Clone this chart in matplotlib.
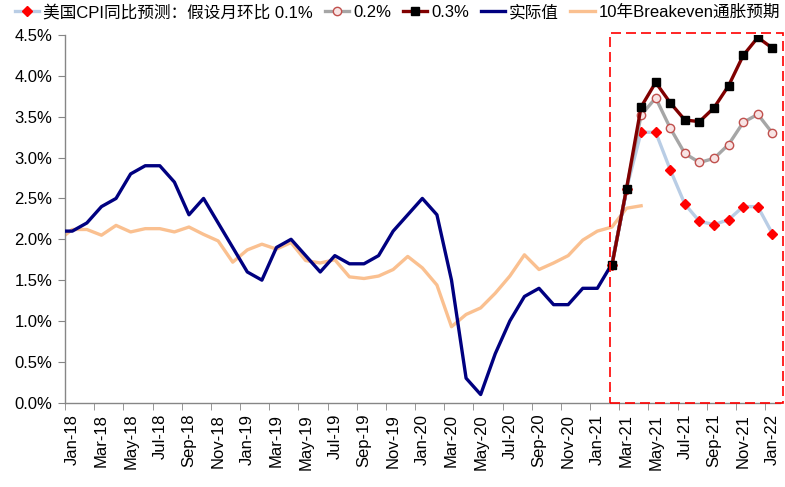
import numpy as np
import pandas as pd
import matplotlib
matplotlib.use('Agg')
import matplotlib.pyplot as plt
from matplotlib.lines import Line2D
from matplotlib.patches import Rectangle

plt.rcParams['font.family'] = ['Liberation Sans', 'Noto Sans CJK SC', 'DejaVu Sans']

# 月份：2017年12月（被裁掉）到2022年1月
months = pd.date_range('2017-12-01', '2022-01-01', freq='MS')
month_labels = [m.strftime('%b-%y') for m in months]

# 实际CPI同比（%），Dec-17 ~ Mar-21
actual = [2.1,
          2.1, 2.2, 2.4, 2.5, 2.8, 2.9, 2.9, 2.7, 2.3, 2.5, 2.2, 1.9,
          1.6, 1.5, 1.9, 2.0, 1.8, 1.6, 1.8, 1.7, 1.7, 1.8, 2.1, 2.3,
          2.5, 2.3, 1.5, 0.3, 0.1, 0.6, 1.0, 1.3, 1.4, 1.2, 1.2, 1.4,
          1.4, 1.7, 2.6]

# 10年Breakeven通胀预期（%），Dec-17 ~ Apr-21
breakeven = [1.98,
             2.12, 2.12, 2.05, 2.17, 2.09, 2.13, 2.13, 2.09, 2.15, 2.06, 1.98, 1.72,
             1.87, 1.94, 1.88, 1.96, 1.74, 1.71, 1.75, 1.54, 1.52, 1.55, 1.63, 1.79,
             1.65, 1.44, 0.93, 1.08, 1.16, 1.34, 1.55, 1.81, 1.63, 1.71, 1.80, 1.99,
             2.10, 2.15, 2.38, 2.41]

# 预测（%），Feb-21 ~ Jan-22
fc_01 = [1.68, 2.62, 3.31, 3.31, 2.85, 2.43, 2.22, 2.18, 2.24, 2.40, 2.40, 2.07]
fc_02 = [1.68, 2.62, 3.52, 3.73, 3.36, 3.05, 2.94, 2.99, 3.16, 3.43, 3.53, 3.30]
fc_03 = [1.68, 2.62, 3.62, 3.92, 3.67, 3.46, 3.44, 3.61, 3.88, 4.25, 4.47, 4.34]

x_all = np.arange(len(months)) - 1          # Dec-17 -> -1, Jan-18 -> 0
x_act = x_all[:len(actual)]
x_be = x_all[:len(breakeven)]
x_fc = x_all[-len(fc_01):]

fig = plt.figure(figsize=(7.85, 4.87), dpi=100)
ax = fig.add_axes([0.0828, 0.1731, 0.9104, 0.7550])

c_navy = '#000080'
c_orange = '#FAC090'
c_lblue = '#B9CDE5'
c_gray = '#A6A6A6'
c_dred = '#800000'

ax.plot(x_be, breakeven, color=c_orange, lw=2.4, zorder=2)
ax.plot(x_act, actual, color=c_navy, lw=2.4, zorder=3)
ax.plot(x_fc, fc_01, color=c_lblue, lw=2.4, marker='D', ms=5.5,
        mfc='#FF0000', mec='#FF0000', zorder=4)
ax.plot(x_fc, fc_02, color=c_gray, lw=2.4, marker='o', ms=6,
        mfc='#F8E4E4', mec='#C0504D', mew=1.0, zorder=5)
ax.plot(x_fc, fc_03, color=c_dred, lw=2.4, marker='s', ms=6,
        mfc='black', mec='black', zorder=6)

ax.set_xlim(-0.5, 48.5)
ax.set_ylim(0, 4.5)

# 虚线框
ax.add_patch(Rectangle((36.85, 0), 48.72 - 36.85, 4.53, fill=False,
                       edgecolor='#FF0000', lw=1.2, ls=(0, (6, 3)),
                       clip_on=False, zorder=7))

# 坐标轴样式
for s in ['top', 'right']:
    ax.spines[s].set_visible(False)
for s in ['left', 'bottom']:
    ax.spines[s].set_color('#868686')
    ax.spines[s].set_linewidth(1.0)

ax.set_yticks(np.arange(0, 4.51, 0.5))
ax.set_yticklabels([f'{v:.1f}%' for v in np.arange(0, 4.51, 0.5)])
ax.tick_params(axis='y', direction='out', length=5, color='#868686',
               labelsize=12, pad=4)

ax.set_xticks(np.arange(0, 49, 2))
ax.set_xticklabels(month_labels[1::2], rotation=90)
ax.set_xticks(np.arange(-0.5, 48, 2), minor=True)
ax.tick_params(axis='x', which='major', length=0, labelsize=12, pad=8)
ax.tick_params(axis='x', which='minor', direction='out', length=5,
               color='#868686')
for lab in ax.get_xticklabels():
    lab.set_verticalalignment('top')

handles = [
    Line2D([], [], color=c_lblue, lw=2.4, marker='D', ms=5.5,
           mfc='#FF0000', mec='#FF0000'),
    Line2D([], [], color=c_gray, lw=2.4, marker='o', ms=6,
           mfc='#F8E4E4', mec='#C0504D', mew=1.0),
    Line2D([], [], color=c_dred, lw=2.4, marker='s', ms=6,
           mfc='black', mec='black'),
    Line2D([], [], color=c_navy, lw=2.4),
    Line2D([], [], color=c_orange, lw=2.4),
]
labels = ['美国CPI同比预测：假设月环比 0.1%', '0.2%', '0.3%', '实际值',
          '10年Breakeven通胀预期']
fig.legend(handles, labels, loc='center left', bbox_to_anchor=(0.019, 0.975),
           ncol=5, frameon=False, fontsize=12.0, handlelength=1.45,
           handletextpad=0.25, columnspacing=0.7, borderaxespad=0,
           borderpad=0)

fig.savefig('out.png', dpi=100)
